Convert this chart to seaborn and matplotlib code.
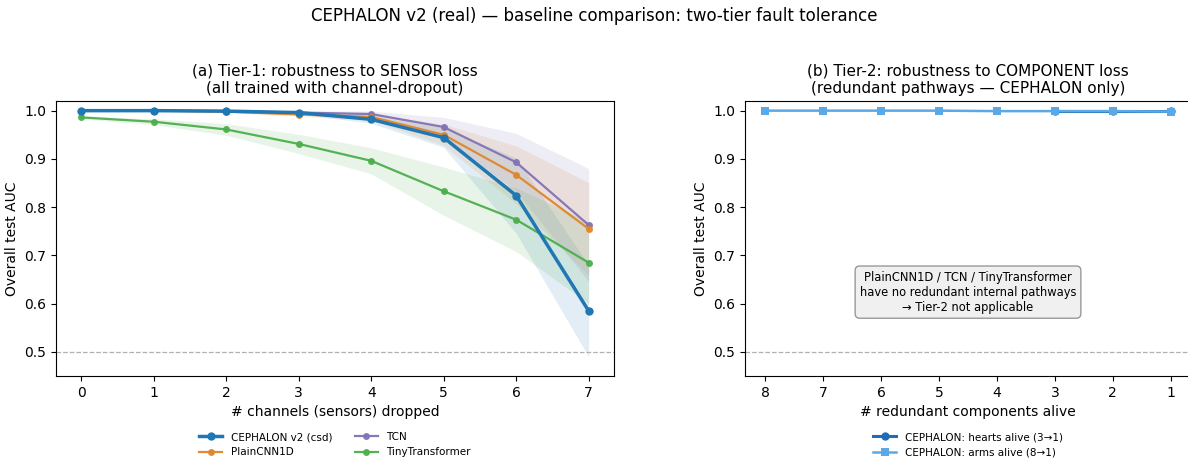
import numpy as np
import pandas as pd
import seaborn as sns
import matplotlib.pyplot as plt

# Tier-1: sensor loss
channels_dropped = [0, 1, 2, 3, 4, 5, 6, 7]
cephalon_mean = [1.000, 1.000, 0.999, 0.996, 0.982, 0.944, 0.824, 0.585]
cephalon_std = [0.001, 0.001, 0.002, 0.003, 0.008, 0.020, 0.078, 0.095]
plaincnn_mean = [1.000, 1.000, 0.998, 0.992, 0.987, 0.950, 0.867, 0.755]
plaincnn_std = [0.001, 0.001, 0.002, 0.004, 0.007, 0.022, 0.060, 0.096]
tcn_mean = [1.000, 1.000, 0.999, 0.996, 0.993, 0.966, 0.893, 0.763]
tcn_std = [0.001, 0.001, 0.002, 0.004, 0.006, 0.020, 0.060, 0.117]
tiny_mean = [0.986, 0.977, 0.961, 0.931, 0.896, 0.833, 0.774, 0.685]
tiny_std = [0.003, 0.006, 0.012, 0.020, 0.027, 0.050, 0.066, 0.085]

# Tier-2: component loss (CEPHALON only)
hearts_alive = [3, 2, 1]
hearts_auc = [1.000, 1.000, 1.000]
arms_alive = [8, 7, 6, 5, 4, 3, 2, 1]
arms_auc = [1.000, 1.000, 1.000, 1.000, 0.999, 0.999, 0.999, 0.998]

fig = plt.figure(figsize=(11.88, 4.58), dpi=100)
W, H = 1188, 458
ax1 = fig.add_axes([56 / W, 1 - 376 / H, 558 / W, 275 / H])
ax2 = fig.add_axes([745 / W, 1 - 376 / H, 446 / W, 275 / H])

series = [
    ("CEPHALON v2 (csd)", cephalon_mean, cephalon_std, "#1f77b4", 2.5, 6, 1.0),
    ("PlainCNN1D", plaincnn_mean, plaincnn_std, "#e0862a", 1.6, 5, 0.95),
    ("TCN", tcn_mean, tcn_std, "#8273b5", 1.6, 5, 0.95),
    ("TinyTransformer", tiny_mean, tiny_std, "#4cae4c", 1.6, 5, 0.95),
]
for name, m, s, col, lw, ms, a in series:
    m = np.array(m)
    s = np.array(s)
    ax1.fill_between(channels_dropped, m - s, m + s, color=col, alpha=0.13, lw=0)
for name, m, s, col, lw, ms, a in reversed(series):
    sns.lineplot(x=channels_dropped, y=m, ax=ax1, color=col, lw=lw, marker="o",
                 markersize=ms, markeredgewidth=0, alpha=a, label=name)

ax1.axhline(0.5, color="#b0b0b0", ls="--", lw=0.9)
ax1.set_xlim(-0.35, 7.35)
ax1.set_ylim(0.45, 1.02)
ax1.set_xticks(channels_dropped)
ax1.set_yticks([0.5, 0.6, 0.7, 0.8, 0.9, 1.0])
ax1.set_xlabel("# channels (sensors) dropped")
ax1.set_ylabel("Overall test AUC")
ax1.set_title("(a) Tier-1: robustness to SENSOR loss\n(all trained with channel-dropout)",
              fontsize=11)
h, l = ax1.get_legend_handles_labels()
order = [l.index(s[0]) for s in series]
ax1.legend([h[i] for i in order], [l[i] for i in order], ncol=2, frameon=False,
           fontsize=7.5, loc="upper center", bbox_to_anchor=(0.5, -0.17),
           columnspacing=2.2, handlelength=2.2)

sns.lineplot(x=hearts_alive, y=hearts_auc, ax=ax2, color="#1f6db3", lw=2.2,
             marker="o", markersize=6, markeredgewidth=0,
             label="CEPHALON: hearts alive (3\u21921)")
sns.lineplot(x=arms_alive, y=arms_auc, ax=ax2, color="#5aa9e6", lw=1.8,
             marker="s", markersize=5.5, markeredgewidth=0,
             label="CEPHALON: arms alive (8\u21921)")
ax2.axhline(0.5, color="#b0b0b0", ls="--", lw=0.9)
ax2.set_xlim(8.35, 0.65)
ax2.set_ylim(0.45, 1.02)
ax2.set_xticks(arms_alive)
ax2.set_yticks([0.5, 0.6, 0.7, 0.8, 0.9, 1.0])
ax2.set_xlabel("# redundant components alive")
ax2.set_ylabel("Overall test AUC")
ax2.set_title("(b) Tier-2: robustness to COMPONENT loss\n(redundant pathways \u2014 CEPHALON only)",
              fontsize=11)
ax2.text(0.5, 0.305, "PlainCNN1D / TCN / TinyTransformer\nhave no redundant internal pathways\n\u2192 Tier-2 not applicable",
         transform=ax2.transAxes, ha="center", va="center", fontsize=8.3,
         bbox=dict(boxstyle="round,pad=0.4", facecolor="#f0f0f0", edgecolor="#999999"))
ax2.legend(frameon=False, fontsize=7.5, loc="upper center", bbox_to_anchor=(0.5, -0.17),
           handlelength=2.2)

fig.suptitle("CEPHALON v2 (real) \u2014 baseline comparison: two-tier fault tolerance",
             fontsize=12, y=0.985)
fig.savefig("out.png", dpi=100)
